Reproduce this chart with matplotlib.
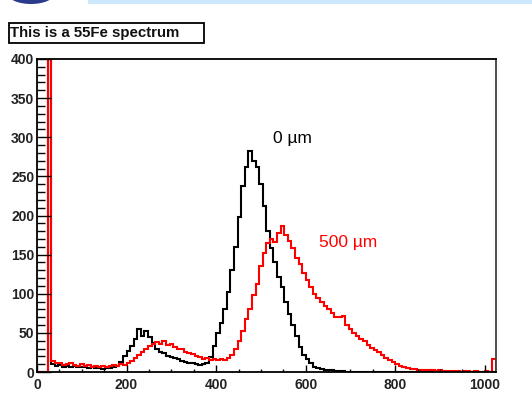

# fe55_spectrum.py
# redraws the 55Fe pulse height spectrum (0 um vs 500 um) as two step histograms

import matplotlib
matplotlib.use('Agg')
import matplotlib.pyplot as plt
from matplotlib.patches import Rectangle, Ellipse
import numpy as np

plt.rcParams['font.family'] = ['Liberation Sans', 'DejaVu Sans']

# channel binning, 8 channels per bin, 0..1024
bin_edges = list(range(0, 1025, 8))

# counts per channel (bin averages)
counts_0um = [
	0, 0, 0, 900, 10, 8, 9, 7, 8, 6,
	8, 7, 6, 7, 5, 6, 5, 5, 4, 5,
	5, 6, 8, 13, 20, 27, 33, 42, 55, 46,
	52, 45, 37, 30, 26, 24, 21, 19, 18, 16,
	14, 13, 12, 11, 10, 9, 10, 12, 19, 33,
	50, 62, 80, 102, 130, 160, 198, 238, 262, 282,
	270, 262, 240, 212, 180, 158, 140, 122, 108, 90,
	74, 60, 46, 32, 22, 16, 11, 7, 5, 4,
	3, 2, 2, 1, 1, 1, 0, 0, 0, 0,
	0, 0, 0, 0, 0, 0, 0, 0, 0, 0,
	0, 0, 0, 0, 0, 0, 0, 0, 0, 0,
	0, 0, 0, 0, 0, 0, 0, 0, 0, 0,
	0, 0, 0, 0, 0, 0, 0, 0,
]

counts_500um = [
	0, 0, 0, 900, 14, 11, 12, 9, 10, 11,
	9, 8, 10, 8, 9, 7, 8, 7, 8, 7,
	8, 9, 8, 10, 9, 12, 14, 18, 22, 26,
	30, 33, 36, 38, 36, 39, 34, 36, 32, 30,
	29, 26, 24, 23, 20, 19, 17, 18, 15, 16,
	15, 17, 15, 18, 22, 30, 40, 52, 68, 80,
	98, 112, 135, 152, 165, 170, 166, 178, 186, 175,
	168, 158, 146, 138, 126, 118, 108, 100, 94, 90,
	84, 80, 76, 70, 70, 72, 60, 55, 50, 46,
	42, 39, 35, 31, 28, 25, 22, 18, 15, 13,
	10, 8, 6, 5, 4, 4, 3, 3, 2, 2,
	2, 1, 2, 1, 1, 1, 1, 1, 0, 1,
	1, 0, 1, 0, 0, 1, 0, 16,
]

x_ticks = [0, 200, 400, 600, 800, 1000]
y_ticks = [0, 50, 100, 150, 200, 250, 300, 350, 400]

fig = plt.figure(figsize=(5.32, 4.04), dpi=100)
ax = fig.add_axes([37/532, 32/404, 459/532, 313/404])

ax.stairs(counts_0um, bin_edges, color='black', lw=1.5)
ax.stairs(counts_500um, bin_edges, color='red', lw=1.5)

ax.set_xlim(0, 1025)
ax.set_ylim(0, 400)
ax.set_xticks(x_ticks)
ax.set_yticks(y_ticks)
ax.set_xticks(np.arange(0, 1025, 50), minor=True)
ax.set_yticks(np.arange(0, 401, 10), minor=True)

ax.tick_params(axis='y', which='major', direction='in', length=10, width=1, pad=2, labelsize=10)
ax.tick_params(axis='y', which='minor', direction='in', length=5.5, width=1)
ax.tick_params(axis='x', which='major', direction='in', length=5, width=1, pad=4, labelsize=10)
ax.tick_params(axis='x', which='minor', direction='in', length=2.5, width=1)
for lab in ax.get_xticklabels() + ax.get_yticklabels():
	lab.set_fontweight('bold')
	lab.set_color('#222222')

for side in ['left', 'bottom', 'top']:
	ax.spines[side].set_linewidth(1.3)
	ax.spines[side].set_color('black')
ax.spines['right'].set_linewidth(1.3)
ax.spines['right'].set_color('#404040')

ax.text(528, 298, '0 µm', color='black', fontsize=12.5, va='center', ha='left')
ax.text(629, 166, '500 µm', color='red', fontsize=12.5, va='center', ha='left')

# title box in the top left corner
fig.patches.append(Rectangle((9/532, (404-43)/404), 195/532, 20/404, transform=fig.transFigure,
							 facecolor='white', edgecolor='black', lw=1.3))
fig.text(10/532, (404-33)/404, 'This is a 55Fe spectrum', fontsize=10.8, fontweight='bold',
		 va='center', ha='left', color='#111111')

# bits of the slide header cut off at the top
fig.patches.append(Rectangle((88/532, 400/404), 444/532, 4/404, transform=fig.transFigure,
							 facecolor='#cce8fc', edgecolor='none'))
fig.patches.append(Ellipse((31/532, 410/404), 46/532, 20/404, transform=fig.transFigure,
						   facecolor='#2b3b8c', edgecolor='none'))

fig.savefig('out.png', dpi=100, facecolor='white')
